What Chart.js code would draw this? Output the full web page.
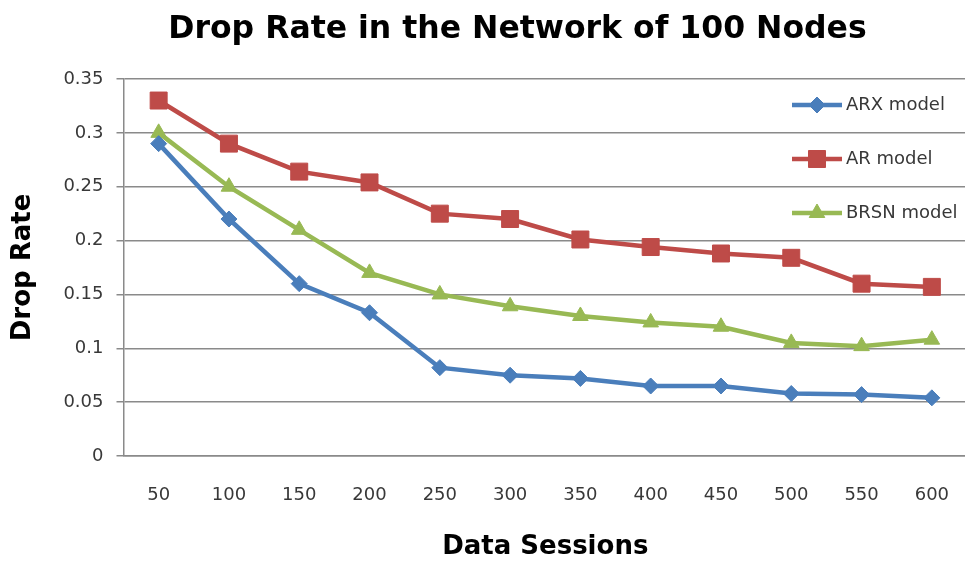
<!DOCTYPE html>
<html>
<head>
<meta charset="utf-8">
<script src="https://cdn.jsdelivr.net/npm/chart.js@4.4.1/dist/chart.umd.min.js"></script>
<style>
  html, body { margin: 0; padding: 0; background: #ffffff; overflow: hidden; }
  #wrap { width: 965px; height: 563px; overflow: hidden; }
  canvas { display: block; }
</style>
</head>
<body>
<div id="wrap"><canvas id="chart" width="980" height="563"></canvas></div>
<script>
// Data sessions on the x axis
const sessions = ['50', '100', '150', '200', '250', '300', '350', '400', '450', '500', '550', '600'];

// Drop rate per model
const arxValues  = [0.29, 0.22, 0.16, 0.133, 0.082, 0.075, 0.072, 0.065, 0.065, 0.058, 0.057, 0.054];
const arValues   = [0.33, 0.29, 0.264, 0.254, 0.225, 0.22, 0.201, 0.194, 0.188, 0.184, 0.16, 0.157];
const brsnValues = [0.30, 0.25, 0.21, 0.17, 0.15, 0.139, 0.13, 0.124, 0.12, 0.105, 0.102, 0.108];

// Value axis ticks
const yTicks = [0, 0.05, 0.1, 0.15, 0.2, 0.25, 0.3, 0.35];
const yTickLabels = ['0', '0.05', '0.1', '0.15', '0.2', '0.25', '0.3', '0.35'];

const FONT = '"DejaVu Sans", sans-serif';
const GRID = '#8a8a8a';
const TEXT = '#383838';

// Legend drawn inside the plot at the top-right, one entry per row
const insideLegend = {
  id: 'insideLegend',
  afterDatasetsDraw(chart) {
    const ctx = chart.ctx;
    const rows = [105, 159, 213];
    chart.data.datasets.forEach((ds, i) => {
      const y = rows[i];
      const x0 = 792, x1 = 842;
      ctx.save();
      ctx.strokeStyle = ds.borderColor;
      ctx.lineWidth = ds.borderWidth;
      ctx.beginPath();
      ctx.moveTo(x0, y);
      ctx.lineTo(x1, y);
      ctx.stroke();
      ctx.fillStyle = ds.pointBackgroundColor;
      ctx.strokeStyle = ds.pointBorderColor;
      ctx.lineWidth = 1;
      Chart.helpers.drawPoint(ctx, {
        pointStyle: ds.pointStyle,
        radius: ds.pointRadius,
        borderWidth: 1
      }, (x0 + x1) / 2, y);
      ctx.fillStyle = TEXT;
      ctx.font = '18px ' + FONT;
      ctx.textBaseline = 'middle';
      ctx.textAlign = 'left';
      ctx.fillText(ds.label, x1 + 4, y);
      ctx.restore();
    });
  }
};

new Chart(document.getElementById('chart'), {
  type: 'line',
  data: {
    labels: sessions,
    datasets: [
      {
        label: 'ARX model',
        data: arxValues,
        borderColor: '#4a7ebb',
        backgroundColor: '#4a7ebb',
        borderWidth: 4.5,
        pointStyle: 'rectRot',
        pointRadius: 8,
        pointBorderWidth: 1,
        pointBorderColor: '#4a7ebb',
        pointBackgroundColor: '#4a7ebb',
        tension: 0
      },
      {
        label: 'AR model',
        data: arValues,
        borderColor: '#be4b48',
        backgroundColor: '#be4b48',
        borderWidth: 4.5,
        pointStyle: 'rect',
        pointRadius: 12,
        pointBorderWidth: 1,
        pointBorderColor: '#be4b48',
        pointBackgroundColor: '#be4b48',
        tension: 0
      },
      {
        label: 'BRSN model',
        data: brsnValues,
        borderColor: '#98b954',
        backgroundColor: '#98b954',
        borderWidth: 4.5,
        pointStyle: 'triangle',
        pointRadius: 9,
        pointBorderWidth: 1,
        pointBorderColor: '#98b954',
        pointBackgroundColor: '#98b954',
        tension: 0
      }
    ]
  },
  options: {
    responsive: false,
    animation: false,
    events: [],
    layout: { padding: { left: 61.5, right: 6.5, top: 0, bottom: 0 } },
    plugins: {
      legend: { display: false },
      tooltip: { enabled: false },
      title: {
        display: true,
        text: 'Drop Rate in the Network of 100 Nodes',
        color: '#000000',
        font: { family: FONT, size: 31.5, weight: 'bold' },
        padding: { top: 11, bottom: 30.2 }
      }
    },
    scales: {
      x: {
        type: 'category',
        offset: true,
        grid: { display: false, drawTicks: false, tickLength: 0 },
        border: { display: true, color: GRID, width: 1.5 },
        ticks: {
          color: TEXT,
          font: { family: FONT, size: 18 },
          padding: 29,
          maxRotation: 0,
          autoSkip: false
        },
        title: {
          display: true,
          text: 'Data Sessions',
          color: '#000000',
          font: { family: FONT, size: 26, weight: 'bold' },
          padding: { top: 0, bottom: 0 }
        },
        afterFit(scale) { scale.height = 107; }
      },
      y: {
        min: 0,
        max: 0.35,
        grid: { color: GRID, lineWidth: 1.5, drawTicks: true, tickLength: 7 },
        border: { display: true, color: GRID, width: 1.5 },
        afterBuildTicks(scale) { scale.ticks = yTicks.map(v => ({ value: v })); },
        ticks: {
          color: TEXT,
          font: { family: FONT, size: 18 },
          padding: 13,
          callback(value) {
            const i = yTicks.findIndex(t => Math.abs(t - value) < 1e-9);
            return i >= 0 ? yTickLabels[i] : '';
          }
        },
        title: {
          display: true,
          text: 'Drop Rate',
          color: '#000000',
          font: { family: FONT, size: 26, weight: 'bold' },
          padding: { top: -54, bottom: 0 }
        },
        afterFit(scale) { scale.width = 62; }
      }
    }
  },
  plugins: [insideLegend]
});
</script>
</body>
</html>
